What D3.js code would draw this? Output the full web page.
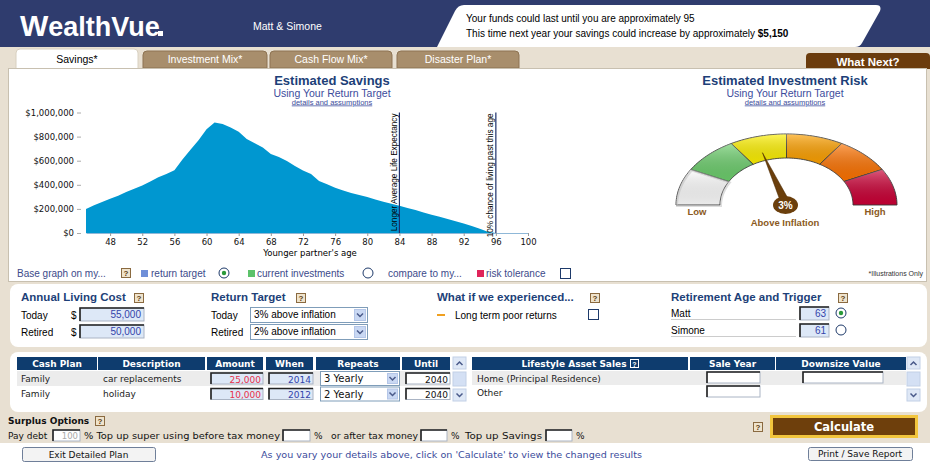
<!DOCTYPE html>
<html>
<head>
<meta charset="utf-8">
<script src="https://cdn.jsdelivr.net/npm/d3@7/dist/d3.min.js"></script>
<style>
body{margin:0;background:#fff;}
svg{display:block;}
text{font-family:'Liberation Sans',Arial,sans-serif;}
text.v{font-family:'DejaVu Sans',Verdana,sans-serif;}
</style>
</head>
<body>
<div id="app"></div>
<script>
// ---- data ----
var ages = [45,46,47,48,49,50,51,52,53,54,55,56,57,58,59,60,61,62,63,64,65,66,67,68,69,70,71,72,
            73,74,75,76,77,78,79,80,81,82,83,84,85,86,87,88,89,90,91,92,93,94,95,96,97,98,99,100];
var savings = [200000,230000,258000,285000,310000,340000,368000,395000,428000,462000,490000,520000,
               610000,690000,770000,860000,918000,905000,875000,840000,780000,745000,710000,655000,
               630000,598000,555000,518000,490000,432000,405000,375000,352000,332000,315000,298000,
               278000,260000,243000,226000,208000,190000,170000,152000,135000,117000,98000,78000,
               58000,36000,10000,0,0,0,0,0];
var xTicks = [48,52,56,60,64,68,72,76,80,84,88,92,96,100];
var yTicks = [0,200000,400000,600000,800000,1000000];
var markerAges = [84, 96];
var markerLabels = ['Longer Average Life Expectancy', '10% chance of living past this age'];

var riskBands = ['very low','low','moderate','growth','high growth','aggressive'];
var riskRange = [0, 7.5];
var riskValue = 3;

var tabs = ['Savings*', 'Investment Mix*', 'Cash Flow Mix*', 'Disaster Plan*'];
var livingCost = [['Today', '55,000'], ['Retired', '50,000']];
var returnTarget = [['Today', '3% above inflation'], ['Retired', '2% above inflation']];
var retirement = [['Matt', '63', true], ['Simone', '61', false]];
var cashCols = ['Cash Plan', 'Description', 'Amount', 'When', 'Repeats', 'Until'];
var cashPlan = [
  ['Family', 'car replacements', '25,000', '2014', '3 Yearly', '2040'],
  ['Family', 'holiday', '10,000', '2012', '2 Yearly', '2040']
];
var assetCols = ['Lifestyle Asset Sales', 'Sale Year', 'Downsize Value'];
var assetRows = ['Home (Principal Residence)', 'Other'];

// ---- page ----
var W = 930, H = 462;
var navy = '#2f3c6e', beige = '#e8e0d2', titleBlue = '#1d3f78', subBlue = '#3c4c9c';

var svg = d3.select('#app').append('svg').attr('width', W).attr('height', H);

function txt(g, x, y, s, o){
  o = o || {};
  var t = g.append('text').attr('x', x).attr('y', y).text(s)
    .style('font-size', (o.size || 10) + 'px')
    .attr('fill', o.color || '#000');
  if(o.anchor) t.attr('text-anchor', o.anchor);
  if(o.bold) t.style('font-weight', 'bold');
  if(o.v) t.attr('class', 'v');
  if(o.len) t.attr('textLength', o.len).attr('lengthAdjust', 'spacingAndGlyphs');
  if(o.under) t.style('text-decoration', 'underline');
  return t;
}
function help(g, x, y){
  g.append('rect').attr('x', x + .5).attr('y', y + .5).attr('width', 9).attr('height', 9)
    .attr('fill', '#efe3cc').attr('stroke', '#8a6a40');
  txt(g, x + 5, y + 8.3, '?', {size: 8, anchor: 'middle', color: '#5a3a10', bold: true});
}
function field(g, x, y, w, h, val, color, fill){
  g.append('rect').attr('x', x).attr('y', y).attr('width', w).attr('height', h)
    .attr('fill', fill || '#dde8f7').attr('stroke', '#aab4c4');
  g.append('path').attr('d', 'M' + x + ',' + (y + h) + 'V' + y + 'H' + (x + w))
    .attr('stroke', '#222').attr('stroke-width', 1.6).attr('fill', 'none');
  if(val) txt(g, x + w - 3, y + h - 3, val, {anchor: 'end', color: color || '#3344aa', size: 10});
}
function chevron(g, cx, cy, col){
  g.append('path').attr('d', 'M' + (cx - 3) + ',' + (cy - 1.5) + 'L' + cx + ',' + (cy + 1.5) + 'L' + (cx + 3) + ',' + (cy - 1.5))
    .attr('fill', 'none').attr('stroke', col || '#4a5a8a').attr('stroke-width', 1.5);
}
function dropdown(g, x, y, w, h, val, size){
  g.append('rect').attr('x', x + .5).attr('y', y + .5).attr('width', w).attr('height', h)
    .attr('fill', '#fff').attr('stroke', '#7f9db9');
  g.append('rect').attr('x', x + w - h + 2.5).attr('y', y + 2.5).attr('width', h - 4).attr('height', h - 4)
    .attr('fill', '#c9d8f3').attr('stroke', '#b4c6e8');
  chevron(g, x + w - h / 2 + .5, y + h / 2 + .5);
  txt(g, x + 4, y + h - 4, val, {size: size || 10});
}
function radio(g, cx, cy, on){
  g.append('circle').attr('cx', cx).attr('cy', cy).attr('r', 5)
    .attr('fill', '#fff').attr('stroke', '#1e3a6a');
  if(on) g.append('circle').attr('cx', cx).attr('cy', cy).attr('r', 2.2).attr('fill', '#2a9a3a');
}
function checkbox(g, x, y, s){
  g.append('rect').attr('x', x + .5).attr('y', y + .5).attr('width', s).attr('height', s)
    .attr('fill', '#fff').attr('stroke', '#1e3a6a');
}
function tabPath(x, y, w, h, r){
  return 'M' + x + ',' + (y + h) + 'V' + (y + r) + 'Q' + x + ',' + y + ' ' + (x + r) + ',' + y +
         'H' + (x + w - r) + 'Q' + (x + w) + ',' + y + ' ' + (x + w) + ',' + (y + r) + 'V' + (y + h) + 'Z';
}

// background
svg.append('rect').attr('width', W).attr('height', H).attr('fill', beige);

// header
var head = svg.append('g');
head.append('rect').attr('width', W).attr('height', 47).attr('fill', navy);
head.append('path').attr('fill', '#fff')
  .attr('d', 'M464,5H876Q882,5 880,11L862,43Q860,47 855,47H437L455,11Q458,5 464,5Z');
var logo = txt(head, 20, 36, '', {size: 27, bold: true, color: '#fff'});
logo.append('tspan').text('W').style('font-size', '30px');
logo.append('tspan').text('ealthVue');
head.append('rect').attr('x', 158).attr('y', 31).attr('width', 5).attr('height', 5).attr('fill', '#fff');
txt(head, 253, 30, 'Matt & Simone', {size: 10.5, color: '#fff'});
txt(head, 466, 22, 'Your funds could last until you are approximately 95', {size: 10});
var l2 = txt(head, 466, 37, 'This time next year your savings could increase by approximately ', {size: 10});
l2.append('tspan').text('$5,150').style('font-weight', 'bold');

// tabs
var tabX = [[16, 122], [143, 124], [270, 122], [397, 122]];
tabs.forEach(function(t, i){
  var on = i === 0;
  svg.append('path').attr('d', tabPath(tabX[i][0], on ? 49 : 51, tabX[i][1], on ? 20 : 17, 4))
    .attr('fill', on ? '#fff' : '#a88e6c').attr('stroke', on ? '#d8d0c0' : '#8d7352');
  txt(svg, tabX[i][0] + tabX[i][1] / 2, 63, t, {size: 10.5, anchor: 'middle', color: on ? '#000' : '#fff'});
});
svg.append('path').attr('d', tabPath(806, 53, 124, 16, 4)).attr('fill', '#6b3c0d');
txt(svg, 868, 66, 'What Next?', {size: 11.5, bold: true, color: '#fff', anchor: 'middle'});

// main white panel
svg.append('rect').attr('x', 8.5).attr('y', 68.5).attr('width', 918).attr('height', 213)
  .attr('fill', '#fff').attr('stroke', '#c8c0b0');

// ---- savings area chart ----
var x = d3.scaleLinear().domain([45, 100]).range([86, 528]);
var y = d3.scaleLinear().domain([0, 1000000]).range([233, 112.5]);
var chart = svg.append('g');

txt(chart, 332, 85, 'Estimated Savings', {size: 13, bold: true, color: titleBlue, anchor: 'middle'});
txt(chart, 332, 96.5, 'Using Your Return Target', {size: 10.5, color: subBlue, anchor: 'middle'});
txt(chart, 332, 104.5, 'details and assumptions', {size: 7.5, color: subBlue, anchor: 'middle', under: true});

chart.append('path').datum(ages)
  .attr('fill', '#0097d0')
  .attr('d', d3.area()
    .x(function(d){ return x(d); })
    .y0(y(0))
    .y1(function(d, i){ return y(savings[i]); }));

var yAxis = chart.append('g').attr('transform', 'translate(81,0)')
  .call(d3.axisLeft(y).tickValues(yTicks).tickSize(4).tickPadding(3).tickFormat(d3.format('$,')));
yAxis.select('.domain').remove();
yAxis.selectAll('line').attr('stroke', '#aaa');
yAxis.selectAll('text').attr('class', 'v').style('font-size', '8.5px').attr('fill', '#111').attr('font-family', null);

var xAxis = chart.append('g').attr('transform', 'translate(0,' + y(0) + ')')
  .call(d3.axisBottom(x).tickValues(xTicks).tickSize(3).tickPadding(3).tickSizeOuter(0));
xAxis.select('.domain').attr('stroke', '#8fb8d8');
xAxis.selectAll('line').attr('stroke', '#999');
xAxis.selectAll('text').attr('class', 'v').style('font-size', '8.5px').attr('fill', '#111').attr('font-family', null);
txt(chart, 310, 256, "Younger partner's age", {size: 8.5, v: true, anchor: 'middle'});

markerAges.forEach(function(a, i){
  chart.append('line').attr('x1', x(a)).attr('x2', x(a)).attr('y1', y(1000000)).attr('y2', y(0))
    .attr('stroke', '#1c2f6b').attr('stroke-width', 1.2);
  txt(chart, 0, 0, markerLabels[i], {size: 8.2, anchor: 'end', color: '#000'})
    .attr('transform', 'translate(' + (x(a) - 2.5) + ',' + (y(1000000) + 1) + ')rotate(-90)')
    .style('font-family', "'Liberation Sans Narrow','Liberation Sans',Arial,sans-serif");
});

// ---- risk gauge ----
var gauge = svg.append('g');
txt(gauge, 785, 85, 'Estimated Investment Risk', {size: 13, bold: true, color: titleBlue, anchor: 'middle'});
txt(gauge, 785, 96.5, 'Using Your Return Target', {size: 10.5, color: subBlue, anchor: 'middle'});
txt(gauge, 785, 104.5, 'details and assumptions', {size: 7.5, color: subBlue, anchor: 'middle', under: true});

var gcx = 786.5, gcy = 205, rxO = 110.5, ryO = 71, rxI = 66.5, ryI = 47;
var bandColors = ['#ffffff', '#6dcf6d', '#fff200', '#ffa200', '#ff7300', '#cc0036'];
var bandAngle = d3.scaleLinear().domain([0, riskBands.length]).range([180, 0]);
var needleAngle = d3.scaleLinear().domain(riskRange).range([180, 0]);
function ept(rx, ry, deg){
  var a = deg * Math.PI / 180;
  return [gcx + rx * Math.cos(a), gcy - ry * Math.sin(a)];
}
function band(a0, a1){
  var pts = [], n = 20, k;
  for(k = 0; k <= n; k++) pts.push(ept(rxO, ryO, a0 + (a1 - a0) * k / n));
  for(k = n; k >= 0; k--) pts.push(ept(rxI, ryI, a0 + (a1 - a0) * k / n));
  return d3.line()(pts) + 'Z';
}
var defs = svg.append('defs');
var sh = defs.append('linearGradient').attr('id', 'shade').attr('x1', 0).attr('y1', 0).attr('x2', 0).attr('y2', 1);
sh.append('stop').attr('offset', '0').attr('stop-color', '#fff').attr('stop-opacity', .35);
sh.append('stop').attr('offset', '1').attr('stop-color', '#000').attr('stop-opacity', .08);

gauge.selectAll('path.band').data(riskBands).enter().append('path')
  .attr('class', 'band')
  .attr('d', function(d, i){ return band(bandAngle(i), bandAngle(i + 1)); })
  .attr('fill', function(d, i){ return bandColors[i]; })
  .attr('stroke', '#3a3a3a').attr('stroke-width', .9);
gauge.selectAll('path.shade').data(riskBands).enter().append('path')
  .attr('class', 'shade')
  .attr('d', function(d, i){ return band(bandAngle(i), bandAngle(i + 1)); })
  .attr('fill', 'url(#shade)');
gauge.append('path').attr('d', band(180, 150)).attr('fill', 'none')
  .attr('stroke', '#bbb').attr('stroke-width', 2).attr('transform', 'translate(1,1)').attr('opacity', .5);

var na = needleAngle(riskValue);
var tip = ept(rxI * 1.17, ryI * 1.17, na);
var dx = tip[0] - gcx, dy = tip[1] - gcy, dl = Math.sqrt(dx * dx + dy * dy);
var px = -dy / dl * 4.5, py = dx / dl * 4.5;
gauge.append('path')
  .attr('d', 'M' + (gcx + px) + ',' + (gcy + py) + 'L' + tip[0] + ',' + tip[1] + 'L' + (gcx - px) + ',' + (gcy - py) + 'Z')
  .attr('fill', '#6b3f0c').attr('stroke', '#4a2a05').attr('stroke-width', .5);
gauge.append('ellipse').attr('cx', gcx - 1).attr('cy', gcy).attr('rx', 12.5).attr('ry', 9).attr('fill', '#6b3f0c');
txt(gauge, gcx - 1, gcy + 3.5, riskValue + '%', {size: 10, bold: true, color: '#fff', anchor: 'middle'});
txt(gauge, 697, 215, 'Low', {size: 9.5, bold: true, color: '#8b5a22', anchor: 'middle'});
txt(gauge, 875, 215, 'High', {size: 9.5, bold: true, color: '#8b5a22', anchor: 'middle'});
txt(gauge, 785, 226, 'Above Inflation', {size: 9.5, bold: true, color: '#8b5a22', anchor: 'middle'});

// legend row
var lg = svg.append('g'), lc = '#3c4a8a';
txt(lg, 17, 277, 'Base graph on my...', {size: 10, color: lc});
help(lg, 121, 268);
lg.append('rect').attr('x', 141).attr('y', 270).attr('width', 7).attr('height', 7).attr('fill', '#6f8fd8');
txt(lg, 151, 277, 'return target', {size: 10, color: lc});
radio(lg, 224, 273, true);
lg.append('rect').attr('x', 248).attr('y', 270).attr('width', 7).attr('height', 7).attr('fill', '#5cc26a');
txt(lg, 257, 277, 'current investments', {size: 10, color: lc});
radio(lg, 368, 273, false);
txt(lg, 388, 277, 'compare to my...', {size: 10, color: lc});
lg.append('rect').attr('x', 477).attr('y', 270).attr('width', 7).attr('height', 7).attr('fill', '#e0245a');
txt(lg, 486, 277, 'risk tolerance', {size: 10, color: lc});
checkbox(lg, 560, 268, 10);
txt(lg, 923, 276, '*Illustrations Only', {size: 7, anchor: 'end', color: '#333'});

// ---- input panel ----
var ip = svg.append('g');
ip.append('rect').attr('x', 10).attr('y', 284).attr('width', 917).attr('height', 63).attr('rx', 8).attr('fill', '#fff');
txt(ip, 21, 301, 'Annual Living Cost', {size: 11.5, bold: true, color: titleBlue});
help(ip, 134, 293);
livingCost.forEach(function(r, i){
  var yy = 308 + i * 17;
  txt(ip, 21, yy + 11, r[0], {size: 10});
  txt(ip, 71, yy + 11, '$', {size: 10});
  field(ip, 80, yy, 64, 13, r[1]);
});
txt(ip, 211, 301, 'Return Target', {size: 11.5, bold: true, color: titleBlue});
help(ip, 296, 293);
returnTarget.forEach(function(r, i){
  var yy = 307 + i * 17;
  txt(ip, 211, yy + 12, r[0], {size: 10});
  dropdown(ip, 250, yy, 117, 15, r[1]);
});
txt(ip, 437, 301, 'What if we experienced...', {size: 11.5, bold: true, color: titleBlue});
help(ip, 590, 293);
ip.append('line').attr('x1', 437).attr('x2', 445).attr('y1', 315).attr('y2', 315).attr('stroke', '#f0a020').attr('stroke-width', 2);
txt(ip, 455, 319, 'Long term poor returns', {size: 10});
checkbox(ip, 588, 309, 10);
txt(ip, 671, 301, 'Retirement Age and Trigger', {size: 11.5, bold: true, color: titleBlue});
help(ip, 838, 293);
retirement.forEach(function(r, i){
  var yy = 307 + i * 17;
  txt(ip, 671, yy + 10, r[0], {size: 10});
  ip.append('line').attr('x1', 671).attr('x2', 796).attr('y1', yy + 12.5).attr('y2', yy + 12.5).attr('stroke', '#ccc');
  field(ip, 800, yy, 29, 13, r[1]);
  radio(ip, 841, yy + 6, r[2]);
});

// ---- cash plan table ----
var tb = svg.append('g'), thFill = '#0e3c6e';
tb.append('rect').attr('x', 10).attr('y', 352).attr('width', 917).attr('height', 60).attr('rx', 8).attr('fill', '#fff');
var cashX = [[17, 80], [98, 107], [207, 56], [266, 47], [316, 84], [402, 48]];
cashCols.forEach(function(c, i){
  tb.append('rect').attr('x', cashX[i][0]).attr('y', 357).attr('width', cashX[i][1]).attr('height', 13).attr('fill', thFill);
  txt(tb, cashX[i][0] + cashX[i][1] / 2, 367, c, {size: 9, bold: true, v: true, color: '#fff', anchor: 'middle'});
});
tb.append('rect').attr('x', 17).attr('y', 371).attr('width', 433).attr('height', 15).attr('fill', '#ececec');
cashPlan.forEach(function(r, i){
  var yy = 372 + i * 15.5;
  txt(tb, 21, yy + 9.5, r[0], {size: 9, v: true, color: '#222'});
  txt(tb, 103, yy + 9.5, r[1], {size: 9, v: true, color: '#222'});
  field(tb, 211, yy + 1, 52, 11, '', '', '#dde8f7');
  txt(tb, 261, yy + 10.5, r[2], {size: 9, v: true, color: '#e8304a', anchor: 'end'});
  field(tb, 269, yy + 1, 44, 11, '', '', '#dde8f7');
  txt(tb, 311, yy + 10.5, r[3], {size: 9, v: true, color: '#3344aa', anchor: 'end'});
  dropdown(tb, 320, yy - 1, 79, 14, '', 9);
  txt(tb, 324, yy + 10, r[4], {size: 10, v: true, color: '#111'});
  field(tb, 406, yy + 1, 44, 11, '', '', '#fff');
  txt(tb, 448, yy + 10.5, r[5], {size: 9, v: true, color: '#111', anchor: 'end'});
});
function scrollbar(g, x){
  g.append('rect').attr('x', x).attr('y', 357).attr('width', 13).attr('height', 12).attr('fill', '#dfe8f6').attr('stroke', '#c2d0e6');
  g.append('path').attr('d', 'M' + (x + 3.5) + ',365L' + (x + 6.5) + ',362L' + (x + 9.5) + ',365').attr('fill', 'none').attr('stroke', '#4a5a8a').attr('stroke-width', 1.5);
  g.append('rect').attr('x', x).attr('y', 372).attr('width', 13).attr('height', 14).attr('fill', '#d4e0f4').attr('stroke', '#c2d0e6');
  g.append('rect').attr('x', x).attr('y', 389).attr('width', 13).attr('height', 12).attr('fill', '#dfe8f6').attr('stroke', '#c2d0e6');
  chevron(g, x + 6.5, 395);
}
scrollbar(tb, 453);
var assetX = [[472, 216], [690, 85], [776, 130]];
assetCols.forEach(function(c, i){
  tb.append('rect').attr('x', assetX[i][0]).attr('y', 357).attr('width', assetX[i][1]).attr('height', 13).attr('fill', thFill);
  txt(tb, assetX[i][0] + assetX[i][1] / 2 - (i === 0 ? 6 : 0), 367, c, {size: 9, bold: true, v: true, color: '#fff', anchor: 'middle'});
});
tb.append('rect').attr('x', 630.5).attr('y', 359.5).attr('width', 8).attr('height', 8).attr('fill', 'none').attr('stroke', '#fff');
txt(tb, 634.5, 366.5, '?', {size: 7, bold: true, color: '#fff', anchor: 'middle'});
tb.append('rect').attr('x', 472).attr('y', 371).attr('width', 434).attr('height', 14).attr('fill', '#ececec');
assetRows.forEach(function(r, i){
  var yy = 372 + i * 14;
  txt(tb, 477, yy + 9.5, r, {size: 9, v: true, color: '#222'});
  field(tb, 707, yy, 53, 11, '', '', '#fff');
  if(i === 0) field(tb, 803, yy, 80, 11, '', '', '#fff');
});
scrollbar(tb, 907);

// ---- surplus options ----
var sp = svg.append('g');
txt(sp, 8, 424, 'Surplus Options', {size: 9, bold: true, v: true, color: '#111'});
help(sp, 95, 416);
txt(sp, 8, 439, 'Pay debt', {size: 9, v: true, color: '#111'});
field(sp, 53, 430, 27, 11, '', '', '#fff');
txt(sp, 78, 439, '100', {size: 8.5, v: true, color: '#aaa', anchor: 'end'});
txt(sp, 84, 439, '% Top up super using before tax money', {size: 9, v: true, color: '#111', len: 196});
field(sp, 283, 430, 27, 11, '', '', '#fff');
txt(sp, 314, 439, '%', {size: 9, v: true, color: '#111'});
txt(sp, 331, 439, 'or after tax money', {size: 9, v: true, color: '#111', len: 87});
field(sp, 421, 430, 26, 11, '', '', '#fff');
txt(sp, 451, 439, '%', {size: 9, v: true, color: '#111'});
txt(sp, 465, 439, 'Top up Savings', {size: 9, v: true, color: '#111', len: 77});
field(sp, 546, 430, 26, 11, '', '', '#fff');
txt(sp, 576, 439, '%', {size: 9, v: true, color: '#111'});
help(sp, 753, 422);
sp.append('rect').attr('x', 770).attr('y', 415).attr('width', 148).attr('height', 23).attr('fill', '#f2c53d');
sp.append('rect').attr('x', 773).attr('y', 418).attr('width', 142).attr('height', 17).attr('fill', '#6e3f0c');
txt(sp, 844, 431, 'Calculate', {size: 11.5, bold: true, v: true, color: '#fff', anchor: 'middle'});

// bottom strip
var bt = svg.append('g');
bt.append('rect').attr('x', 0).attr('y', 443).attr('width', W).attr('height', 19).attr('fill', '#fff');
function button(g, x, yy, w, h, label){
  g.append('rect').attr('x', x + .5).attr('y', yy + .5).attr('width', w).attr('height', h).attr('rx', 2)
    .attr('fill', '#f3f3f3').attr('stroke', '#6f7f99');
  txt(g, x + w / 2, yy + h - 3.5, label, {size: 9, v: true, color: '#111', anchor: 'middle'});
}
button(bt, 22, 447, 133, 14, 'Exit Detailed Plan');
txt(bt, 261, 458, "As you vary your details above, click on 'Calculate' to view the changed results",
    {size: 8.5, v: true, color: subBlue, len: 381});
button(bt, 808, 447, 104, 13, 'Print / Save Report');
</script>
</body>
</html>
